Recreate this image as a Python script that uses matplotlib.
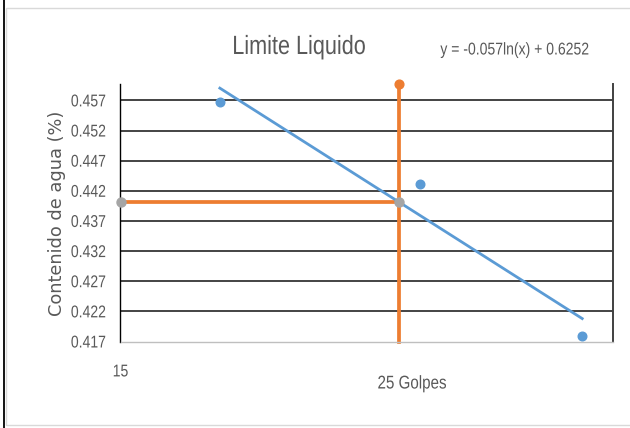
import numpy as np
import matplotlib
matplotlib.use("Agg")
import matplotlib.pyplot as plt
from matplotlib.lines import Line2D
from matplotlib.patches import Rectangle
from matplotlib.patheffects import AbstractPathEffect
from matplotlib.transforms import Affine2D

# Liquid-limit test data: blows (golpes) vs. water content
golpes = [18, 26, 35]
humedad = [0.4567, 0.4432, 0.4179]

# Logarithmic trendline  y = a*ln(x) + b
trend_a = -0.05749
trend_b = 0.6252
equation_text = "y = -0.057ln(x) + 0.6252"

n_ref = 25          # reference number of blows
x_limits = (15, 37)
y_limits = (0.417, 0.4598)
y_ticks = [0.417, 0.422, 0.427, 0.432, 0.437, 0.442, 0.447, 0.452, 0.457]
y_tick_labels = ["0.417", "0.422", "0.427", "0.432", "0.437", "0.442", "0.447", "0.452", "0.457"]
x_ticks = [15]
x_tick_labels = ["15"]

title_text = "Limite Liquido"
y_label_text = "Contenido de agua (%)"
x_label_text = "25 Golpes"

BLUE = "#5B9BD5"
ORANGE = "#ED7D31"
GREY = "#A5A5A5"
TEXT = "#595959"
FONT = "Liberation Sans"
SQUEEZE = 0.82   # horizontal compression for a narrow look


class Condense(AbstractPathEffect):
    """Squeeze glyphs horizontally about a fixed display x position."""

    def __init__(self, sx, cx):
        super().__init__()
        self.sx = sx
        self.cx = cx

    def draw_path(self, renderer, gc, tpath, affine, rgbFace=None):
        squeeze = Affine2D().translate(-self.cx, 0).scale(self.sx, 1).translate(self.cx, 0)
        renderer.draw_path(gc, tpath, affine + squeeze, rgbFace)


def condense(text, renderer, sx=SQUEEZE):
    bb = text.get_window_extent(renderer)
    ha = text.get_ha()
    if ha == "left":
        cx = bb.x0
    elif ha == "right":
        cx = bb.x1
    else:
        cx = 0.5 * (bb.x0 + bb.x1)
    text.set_path_effects([Condense(sx, cx)])


fig = plt.figure(figsize=(6.3, 4.28), dpi=100)
fig.patch.set_facecolor("white")

# chart frame
fig.add_artist(Rectangle((6 / 630, 1 - 425 / 428), 700 / 630, 417 / 428,
                         transform=fig.transFigure, fill=False,
                         edgecolor="#D9D9D9", linewidth=1.0))
fig.add_artist(Line2D([3.5 / 630, 3.5 / 630], [0, 1], transform=fig.transFigure,
                      color="black", linewidth=1.3))

ax = fig.add_axes([120.5 / 630, 86.5 / 428, 492 / 630, 258 / 428])
ax.set_xscale("log")
ax.set_xlim(*x_limits)
ax.set_ylim(*y_limits)

# horizontal gridlines
for yv in y_ticks[1:]:
    ax.axhline(yv, color="#111111", linewidth=1.1, zorder=1)

# trendline over the data range
xt = np.geomspace(min(golpes), max(golpes), 200)
yt = trend_a * np.log(xt) + trend_b
ax.plot(xt, yt, color=BLUE, linewidth=2.0, zorder=3)

# data points
ax.plot(golpes, humedad, "o", color=BLUE, markersize=6.2, zorder=4, clip_on=False)

# liquid limit at 25 blows
ll = trend_a * np.log(n_ref) + trend_b
ax.plot([n_ref, n_ref], [y_limits[0], y_limits[1]], color=ORANGE, linewidth=2.7,
        zorder=2, clip_on=False)
ax.plot([n_ref], [y_limits[1]], "o", color=ORANGE, markersize=6.3, zorder=5, clip_on=False)
ax.plot([x_limits[0], n_ref], [ll, ll], color=ORANGE, linewidth=2.7, zorder=2)
ax.plot([x_limits[0], n_ref], [ll, ll], "o", color=GREY, markersize=6.5, zorder=5,
        clip_on=False)

# axes styling
ax.spines["top"].set_visible(False)
ax.spines["left"].set_color("black")
ax.spines["left"].set_linewidth(1.0)
ax.spines["right"].set_color("#404040")
ax.spines["right"].set_linewidth(1.4)
ax.spines["bottom"].set_color("#BFBFBF")
ax.spines["bottom"].set_linewidth(1.0)

ax.set_yticks(y_ticks)
ax.set_yticklabels(y_tick_labels, fontfamily=FONT, fontsize=12.3, color=TEXT)
ax.xaxis.set_minor_locator(matplotlib.ticker.NullLocator())
ax.set_xticks(x_ticks)
ax.set_xticklabels(x_tick_labels, fontfamily=FONT, fontsize=12.3, color=TEXT)
ax.tick_params(axis="y", length=0, pad=10.5)
ax.tick_params(axis="x", length=0, pad=16.5)

title = fig.text(299 / 630, 1 - 47 / 428, title_text, ha="center", va="center",
                 fontfamily=FONT, fontsize=19, color=TEXT)
eq = fig.text(515 / 630, 1 - 50 / 428, equation_text, ha="center", va="center",
              fontfamily=FONT, fontsize=12.3, color=TEXT)
fig.text(57 / 630, 1 - 213 / 428, y_label_text, ha="center", va="center",
         rotation=90, fontfamily="DejaVu Sans", fontsize=12.8, color=TEXT)
xl = fig.text(412 / 630, 1 - 384 / 428, x_label_text, ha="center", va="center",
              fontfamily=FONT, fontsize=13.3, color=TEXT)

fig.canvas.draw()
renderer = fig.canvas.get_renderer()
for t in [title, eq, xl] + ax.get_yticklabels() + ax.get_xticklabels():
    condense(t, renderer)

fig.savefig("out.png", dpi=100, facecolor="white")
